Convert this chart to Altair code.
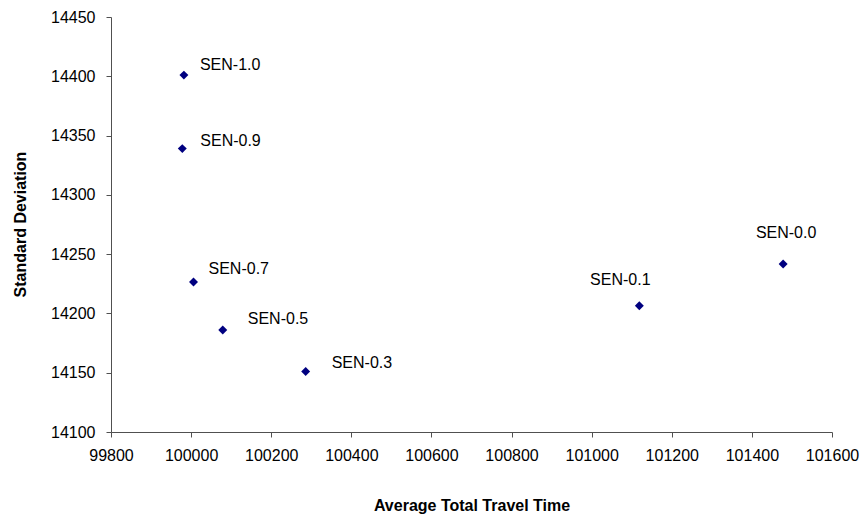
import altair as alt
import pandas as pd

labels = ["SEN-1.0", "SEN-0.9", "SEN-0.7", "SEN-0.5", "SEN-0.3", "SEN-0.1", "SEN-0.0"]
avg_travel_time = [99982, 99978, 100006, 100079, 100286, 101119, 101478]
std_dev = [14401, 14339, 14226.5, 14186, 14151, 14206.5, 14241.7]

x_ticks = list(range(99800, 101601, 200))
y_ticks = list(range(14100, 14451, 50))

df = pd.DataFrame({"label": labels, "x": avg_travel_time, "y": std_dev})

# label placement styling (offsets in pixels, alignment)
label_style = {
    "SEN-1.0": ("left", 16, -10),
    "SEN-0.9": ("left", 18, -8),
    "SEN-0.7": ("left", 15, -13),
    "SEN-0.5": ("left", 25, -11),
    "SEN-0.3": ("left", 26, -9),
    "SEN-0.1": ("center", -19, -26),
    "SEN-0.0": ("center", 3, -31),
}

FONT = "Liberation Sans"
AX = "#505050"

xenc = alt.X(
    "x:Q",
    scale=alt.Scale(domain=[99800, 101600], nice=False, zero=False),
    axis=alt.Axis(
        title="Average Total Travel Time",
        values=x_ticks,
        format="d",
        grid=False,
        tickSize=5,
        labelPadding=10,
        labelFlush=False,
        labelOverlap=False,
        titleY=73,
        titleBaseline="middle",
    ),
)
yenc = alt.Y(
    "y:Q",
    scale=alt.Scale(domain=[14100, 14450], nice=False, zero=False),
    axis=alt.Axis(
        title="Standard Deviation",
        values=y_ticks,
        format="d",
        grid=False,
        tickSize=5,
        labelPadding=11,
        labelFlush=False,
        labelOverlap=False,
        titleX=-91,
        titleY=207,
        titleBaseline="middle",
        titleAlign="center",
    ),
)

base = alt.Chart(df)
points = base.mark_point(shape="diamond", filled=True, size=80, color="#000080", opacity=1).encode(
    x=xenc, y=yenc
)

layers = [points]
for lab, (align, dx, dy) in label_style.items():
    layers.append(
        base.transform_filter(alt.datum.label == lab)
        .mark_text(align=align, baseline="middle", dx=dx, dy=dy, fontSize=16, font=FONT, color="black")
        .encode(x="x:Q", y="y:Q", text="label:N")
    )

chart = (
    alt.layer(*layers)
    .properties(
        width=721,
        height=415,
        autosize=alt.AutoSizeParams(type="none"),
        padding={"left": 111, "top": 17, "right": 31, "bottom": 82},
        background="white",
    )
    .configure_view(stroke=None)
    .configure_axis(
        labelFont=FONT,
        labelFontSize=16,
        labelColor="black",
        titleFont=FONT,
        titleFontSize=16,
        titleFontWeight="bold",
        titleColor="black",
        domainColor=AX,
        tickColor=AX,
        domainWidth=1,
        tickWidth=1,
    )
)

chart.save("out.html", embed_options={"renderer": "svg", "actions": False})
